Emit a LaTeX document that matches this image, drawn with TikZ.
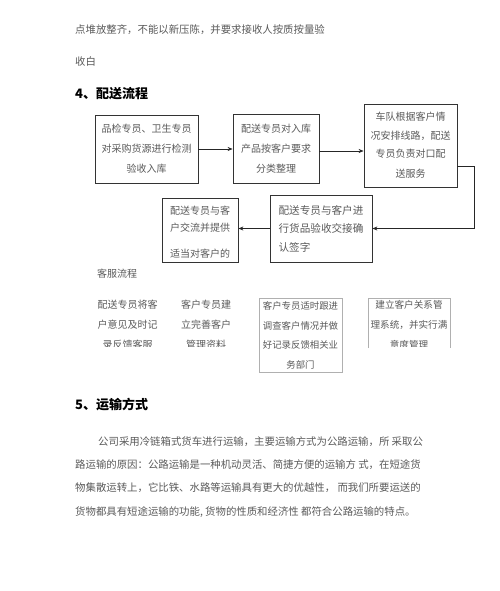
\documentclass[tikz,border=0pt]{standalone}
\usepackage{fontspec}
\newfontfamily\cjk{Noto Sans CJK SC}
\usetikzlibrary{arrows.meta}
\definecolor{txt}{HTML}{5A5A5A}
\definecolor{lightbox}{HTML}{B0B0B0}
\begin{document}
\begin{tikzpicture}[x=1pt,y=-1pt,
  body/.style={font=\cjk\fontsize{10.4}{20}\selectfont, text=txt, inner sep=0pt},
  boxtxt/.style={font=\cjk\fontsize{10}{20}\selectfont, text=txt, inner sep=0pt},
  heading/.style={font=\cjk\bfseries\fontsize{13}{16}\selectfont, text=black, inner sep=0pt},
  flow/.style={boxtxt, draw=black!80, line width=0.8pt, rectangle, align=center},
  soft/.style={draw=lightbox, line width=0.7pt},
  arr/.style={-{Stealth[length=5pt,width=4pt]}, draw=black!85, line width=0.7pt}]
\useasboundingbox (0,0) rectangle (500,591);
\fill[white] (0,0) rectangle (500,591);

% top text
\node[body, anchor=west] (t1) at (75,30) {点堆放整齐，不能以新压陈，并要求接收人按质按量验};
\node[body, anchor=west] (t2) at (75,62) {收白};
\node[heading, anchor=west] (h4) at (75,94) {4、配送流程};

% flow boxes
\node[flow, minimum width=103pt, minimum height=68pt] (A) at (146.5,149)
  {品检专员、卫生专员\\对采购货源进行检测\\验收入库};
\node[flow, minimum width=86pt, minimum height=69pt] (B) at (276,148.5)
  {配送专员对入库\\产品按客户要求\\分类整理};
\node[flow, minimum width=93pt, minimum height=83pt] (C) at (410.5,145.5)
  {\fontsize{10}{20}\selectfont 车队根据客户情\\[-1pt]况安排线路，配送\\[-2pt]专员负责对口配\\送服务};
\node[flow, align=left, minimum width=102pt, minimum height=67pt, font=\cjk\fontsize{10.6}{18.5}\selectfont] (D) at (321,228.5)
  {配送专员与客户进\\行货品验收交接确\\认签字};
\node[flow, minimum width=76pt, minimum height=64pt] (E) at (200,230) {};
\node[boxtxt, align=left] (Et) at (200,232.5)
  {配送专员与客\\[-3pt]户交流并提供\\[6pt]适当对客户的};

\coordinate (c1) at (474,166);
\coordinate (b1) at ([yshift=-2.5pt]B.east);
\draw[arr] (A.east) -- (B.west |- A.east);
\draw[arr] (b1) -- (C.west |- b1);
\draw[arr] (C.east |- c1) -- (c1) |- (D.east);
\draw[arr] (D.west) -- (E.east |- D.west);

% customer service
\node[boxtxt, anchor=west] (ks) at (97,274) {客服流程};
\begin{scope}
  \clip (0,280) rectangle (500,346.3);
  \node[boxtxt, align=center] (k1) at (127.5,324.5) {配送专员将客\\[0.5pt]户意见及时记\\录反馈客服};
  \node[boxtxt, align=center] (k2) at (206,324.5) {客户专员建\\[0.5pt]立完善客户\\管理资料};
  \node[boxtxt, align=center, font=\cjk\fontsize{9.6}{20}\selectfont] (k4) at (409,325) {建立客户关系管\\理系统，并实行满\\意度管理};
\end{scope}
\node[soft, rectangle, inner sep=0pt, minimum width=83pt, minimum height=74pt] (k3) at (300.5,335) {};
\node[boxtxt, align=center, font=\cjk\fontsize{9.4}{19.7}\selectfont] (k3t) at (300.5,335.5)
  {客户专员适时跟进\\调查客户情况并做\\好记录反馈相关业\\务部门};
\coordinate (k4a) at (368,348);
\coordinate (k4b) at (450,348);
\draw[soft] (k4a) -- (368,298) -- (450,298) -- (k4b);

% section 5
\node[heading, anchor=west] (h5) at (75,405) {5、运输方式};
\node[body, anchor=west] (p1) at (98,442) {公司采用冷链箱式货车进行运输，主要运输方式为公路运输，所 采取公};
\node[body, anchor=west] (p2) at (75,465) {路运输的原因：公路运输是一种机动灵活、简捷方便的运输方 式，在短途货};
\node[body, anchor=west] (p3) at (75,488) {物集散运转上，它比铁、水路等运输具有更大的优越性， 而我们所要运送的};
\node[body, anchor=west] (p4) at (75,512) {货物都具有短途运输的功能, 货物的性质和经济性 都符合公路运输的特点。};
\end{tikzpicture}
\end{document}
